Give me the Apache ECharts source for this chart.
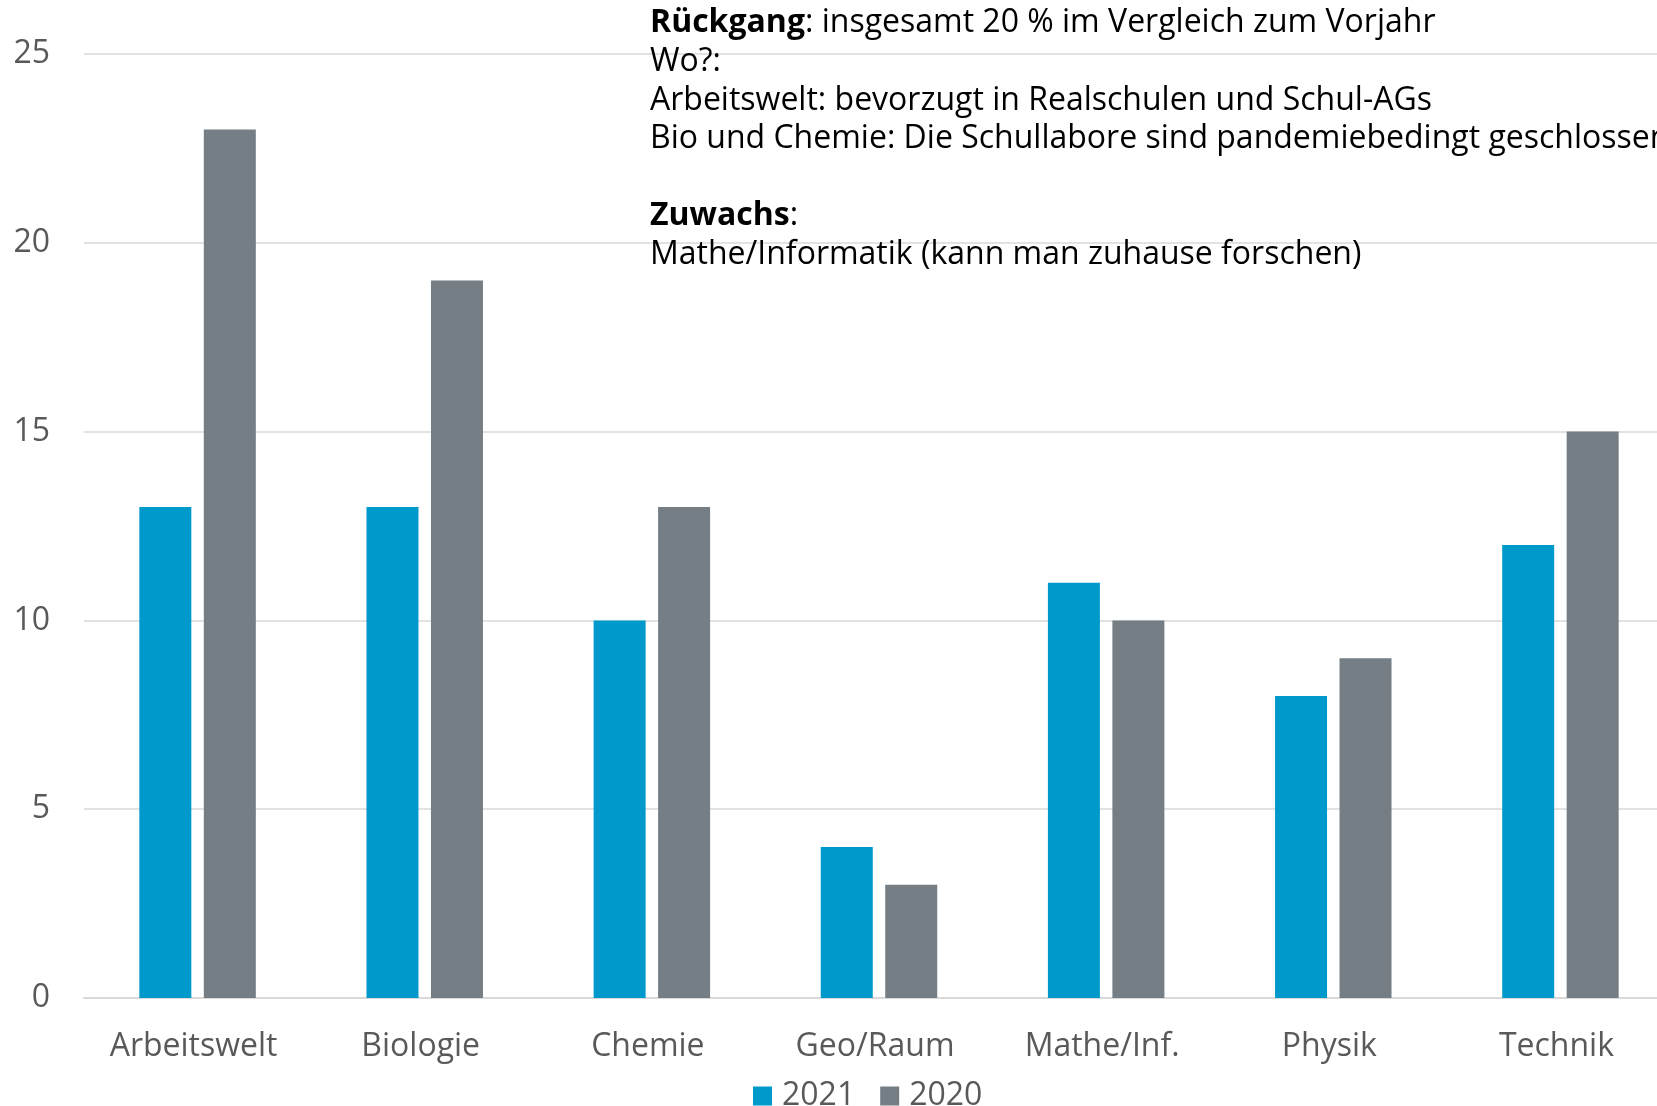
<!DOCTYPE html>
<html>
<head>
<meta charset="utf-8">
<script src="https://cdn.jsdelivr.net/npm/echarts@6/dist/echarts.min.js"></script>
<style>
	html, body {margin:0; padding:0; background:#fff;}
	#main {width:1657px; height:1106px;}
</style>
</head>
<body>
<div id="main"></div>
<script>
// data
var categories = ['Arbeitswelt', 'Biologie', 'Chemie', 'Geo/Raum', 'Mathe/Inf.', 'Physik', 'Technik'],
	values2021 = [13, 13, 10, 4, 11, 8, 12],
	values2020 = [23, 19, 13, 3, 10, 9, 15],
	seriesNames = ['2021', '2020'],
	yTicks = [0, 5, 10, 15, 20, 25];

var noteLines = [
	'{b|Rückgang}: insgesamt 20 % im Vergleich zum Vorjahr',
	'Wo?:',
	'Arbeitswelt: bevorzugt in Realschulen und Schul-AGs',
	'Bio und Chemie: Die Schullabore sind pandemiebedingt geschlossen',
	' ',
	'{b|Zuwachs}:',
	'Mathe/Informatik (kann man zuhause forschen)'
];

var font = 'Open Sans',
	labelColor = '#595959',
	gridColor = '#d9d9d9';

var myChart = echarts.init(document.getElementById('main'));

var option = {
	animation: false,
	color: ['#0099cc', '#747e84'],
	textStyle: {fontFamily: font},
	grid: {
		left: 84,
		top: 54,
		width: 1590,
		height: 944,
		outerBoundsMode: 'none'
	},
	legend: {
		data: seriesNames,
		left: 753,
		top: 1080,
		padding: 0,
		itemWidth: 19,
		itemHeight: 19,
		itemGap: 25,
		icon: 'rect',
		textStyle: {fontFamily: font, fontSize: 32, color: labelColor, padding: [0, 0, 0, 5]}
	},
	xAxis: {
		type: 'category',
		data: categories,
		axisTick: {show: false},
		axisLine: {lineStyle: {color: gridColor, width: 2}},
		axisLabel: {fontFamily: font, fontSize: 32, color: labelColor, margin: 33, padding: [0, 8, 0, 0]}
	},
	yAxis: {
		type: 'value',
		min: yTicks[0],
		max: yTicks[yTicks.length - 1],
		interval: 5,
		axisLine: {show: false},
		axisTick: {show: false},
		splitLine: {lineStyle: {color: gridColor, width: 1.5}},
		axisLabel: {fontFamily: font, fontSize: 32, color: labelColor, margin: 34}
	},
	series: [{
		name: seriesNames[0],
		type: 'bar',
		data: values2021,
		barWidth: 52,
		barGap: '24%'
	}, {
		name: seriesNames[1],
		type: 'bar',
		data: values2020,
		barWidth: 52,
		barGap: '24%'
	}],
	graphic: [{
		type: 'text',
		left: 650,
		top: 4,
		z: 100,
		style: {
			text: noteLines.join('\n'),
			fontFamily: font,
			fontSize: 32,
			lineHeight: 38.6,
			fill: '#000',
			rich: {
				b: {fontFamily: font, fontSize: 32, fontWeight: 'bold', lineHeight: 38.6, fill: '#000'}
			}
		}
	}]
};

myChart.setOption(option);
</script>
</body>
</html>
